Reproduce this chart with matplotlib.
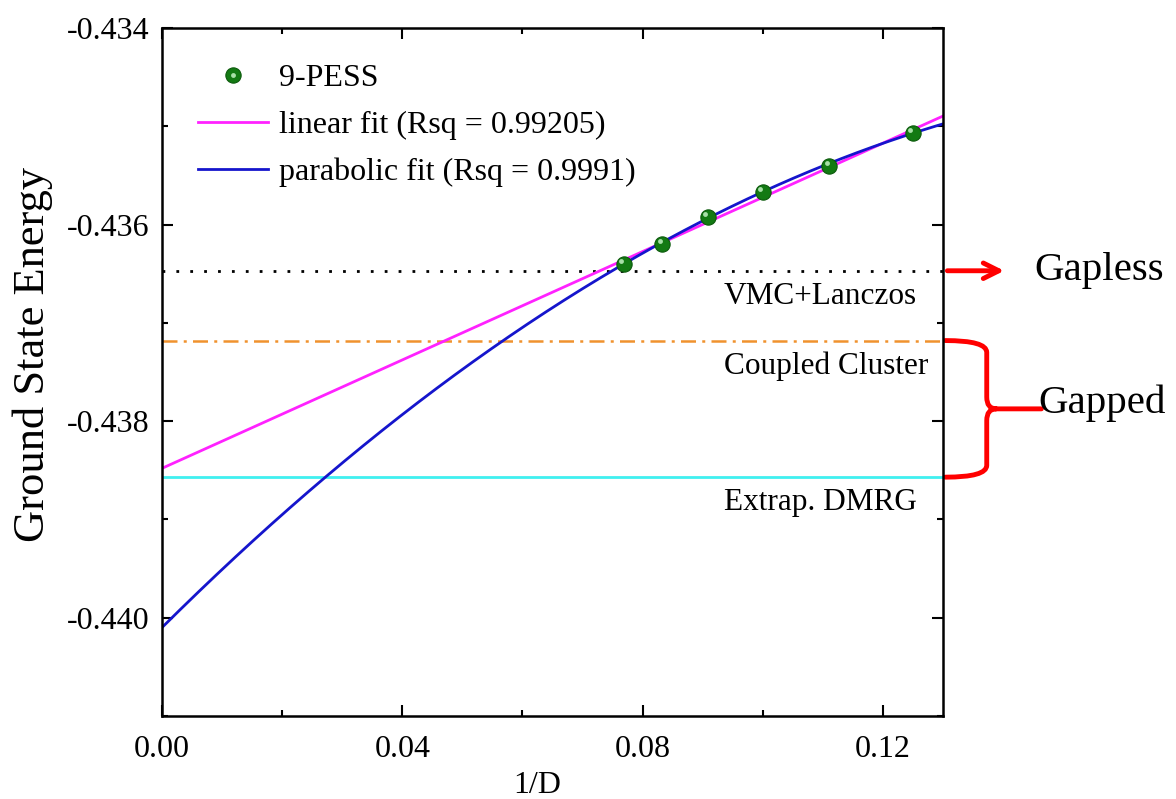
import numpy as np
import matplotlib
matplotlib.use("Agg")
import matplotlib.pyplot as plt
from matplotlib.path import Path
from matplotlib.patches import PathPatch
from matplotlib.transforms import ScaledTranslation
from matplotlib.legend_handler import HandlerTuple

plt.rcParams['font.family'] = ['Liberation Serif', 'DejaVu Serif']

# 9-PESS data, x = 1/D
inv_D = [0.0769, 0.0833, 0.0909, 0.1000, 0.1111, 0.1250]
energy = [-0.43640, -0.43620, -0.43592, -0.43567, -0.43540, -0.43507]

# fit coefficients (lowest order first)
linear_coef = [-0.43848, 0.02757]
parabolic_coef = [-0.44010, 0.06072, -0.16386]

# reference energies
ref_names = ["VMC+Lanczos", "Coupled Cluster", "Extrap. DMRG"]
ref_values = [-0.43647, -0.43718, -0.43857]

x_ticks = [0.00, 0.04, 0.08, 0.12]
y_ticks = [-0.440, -0.438, -0.436, -0.434]

fig = plt.figure(figsize=(11.76, 7.99), dpi=100)
ax = fig.add_axes([162 / 1176, 83 / 799, 781 / 1176, 688 / 799])

xs = np.linspace(0, 0.13, 300)
lin_y = linear_coef[0] + linear_coef[1] * xs
par_y = parabolic_coef[0] + parabolic_coef[1] * xs + parabolic_coef[2] * xs ** 2

# reference lines
ax.axhline(ref_values[0], color='black', ls=(0, (1, 4)), lw=2)
ax.axhline(ref_values[1], color='#f0922e', ls=(0, (6, 2.5, 1.2, 2.5)), lw=1.8)
ax.axhline(ref_values[2], color='#40f0f0', lw=2)

lin_line, = ax.plot(xs, lin_y, color='#ff22ff', lw=2)
par_line, = ax.plot(xs, par_y, color='#1515cc', lw=2)

pts, = ax.plot(inv_D, energy, 'o', color='#137a13', ms=11, mec='#0c5a0c', mew=0.8, zorder=5)
shine = ScaledTranslation(-2 / 72, 2 / 72, fig.dpi_scale_trans)
hi, = ax.plot(inv_D, energy, 'o', color='#a8e0a8', ms=3.5, mew=0, zorder=6,
              transform=ax.transData + shine)

for name, val in zip(ref_names, ref_values):
    ax.text(0.0935, val - 0.00026, name, fontsize=22.5, ha='left', va='center')

ax.set_xlim(0, 0.13)
ax.set_ylim(-0.441, -0.434)
ax.set_xticks(x_ticks)
ax.set_xticks([0.02, 0.06, 0.10], minor=True)
ax.set_yticks(y_ticks)
ax.set_yticks([-0.441, -0.439, -0.437, -0.435], minor=True)
ax.set_xticklabels([f"{v:.2f}" for v in x_ticks])
ax.set_yticklabels([f"{v:.3f}" for v in y_ticks])
ax.tick_params(which='both', direction='in', top=True, right=True, width=1.5, labelsize=23)
ax.tick_params(which='major', length=8)
ax.tick_params(which='minor', length=4)
ax.tick_params(axis='x', pad=14)
ax.tick_params(axis='y', pad=9)
for s in ax.spines.values():
    s.set_linewidth(1.8)

ax.set_xlabel("1/D", fontsize=23, labelpad=0)
ax.xaxis.set_label_coords(0.48, -0.08)
ax.set_ylabel("Ground State Energy", fontsize=32)
ax.yaxis.set_label_coords(-0.14, 0.525)

ax.legend([(pts, hi), lin_line, par_line],
          ["9-PESS", "linear fit (Rsq = 0.99205)", "parabolic fit (Rsq = 0.9991)"],
          handler_map={tuple: HandlerTuple(ndivide=1, pad=0)}, numpoints=1,
          loc='upper left', bbox_to_anchor=(0.046, 0.948), frameon=False,
          fontsize=23, borderpad=0, borderaxespad=0, handlelength=2.2,
          handletextpad=0.35, labelspacing=0.55)

# annotations outside the axes (x in axes fraction, y in data)
tr = ax.get_yaxis_transform()
ax.annotate('', xy=(1.082, ref_values[0]), xytext=(1.002, ref_values[0]),
            xycoords=tr, textcoords=tr,
            arrowprops=dict(arrowstyle='->', color='red', lw=3.5, mutation_scale=28))
ax.text(1.117, ref_values[0], "Gapless", transform=tr, fontsize=29.5,
        ha='left', va='center', clip_on=False)

ytop, ybot = ref_values[1], ref_values[2]
ymid = (ytop + ybot) / 2
x0, xv, xp, xe = 1.003, 1.056, 1.068, 1.126
r = 0.00012
verts = [(x0, ytop), (xv, ytop), (xv, ytop - r),
         (xv, ymid + r), (xv, ymid), (xp, ymid),
         (xv, ymid), (xv, ymid - r),
         (xv, ybot + r), (xv, ybot), (x0, ybot),
         (xp, ymid), (xe, ymid)]
codes = [Path.MOVETO, Path.CURVE3, Path.CURVE3,
         Path.LINETO, Path.CURVE3, Path.CURVE3,
         Path.CURVE3, Path.CURVE3,
         Path.LINETO, Path.CURVE3, Path.CURVE3,
         Path.MOVETO, Path.LINETO]
brace = PathPatch(Path(verts, codes), transform=tr, fill=False, edgecolor='red',
                  lw=3.5, clip_on=False, capstyle='round', joinstyle='round')
ax.add_patch(brace)
ax.text(1.122, ymid + 0.00006, "Gapped", transform=tr, fontsize=29.5,
        ha='left', va='center', clip_on=False)

fig.savefig("out.png", dpi=100)
